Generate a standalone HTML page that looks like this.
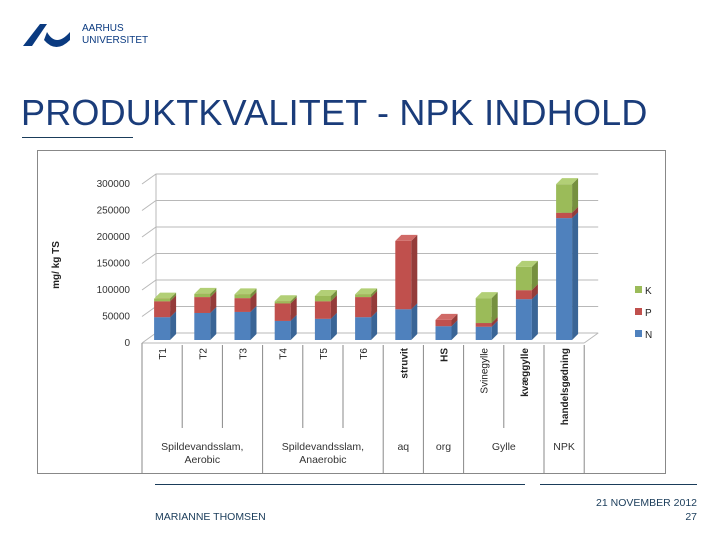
<!DOCTYPE html>
<html><head><meta charset="utf-8">
<style>
body{margin:0;width:720px;height:540px;background:#fff;overflow:hidden;position:relative;font-family:"Liberation Sans",sans-serif}
.abs{position:absolute}
</style></head>
<body>
<div class="abs" style="left:20px;top:20px">
<svg width="52" height="28"><path d="M3 26 L20 4 L27 4 L12 26 Z" fill="#0a3a80"/><path d="M27 12 Q36 28 50 12 L50 20 Q36 34 24 20 Z" fill="#0a3a80"/></svg>
</div>
<div class="abs" style="left:82px;top:23px;font-size:10px;line-height:12px;color:#0a3a80">AARHUS<br>UNIVERSITET</div>
<div class="abs" style="left:21px;top:92px;font-size:36px;color:#1a3c7a;letter-spacing:0.2px;white-space:nowrap">PRODUKTKVALITET - NPK INDHOLD</div>
<div class="abs" style="left:22px;top:137px;width:111px;height:1px;background:#1a3c5a"></div>

<svg class="abs" style="left:0;top:0" width="720" height="540" id="chart"></svg>

<div class="abs" style="left:155px;top:484px;width:370px;height:1px;background:#1a3c5a"></div>
<div class="abs" style="left:540px;top:484px;width:157px;height:1px;background:#1a3c5a"></div>
<div class="abs" style="left:155px;top:511px;font-size:10.5px;color:#1a3c5a">MARIANNE THOMSEN</div>
<div class="abs" style="right:23px;top:497px;font-size:10.5px;color:#1a3c5a;text-align:right">21 NOVEMBER 2012</div>
<div class="abs" style="right:23px;top:511px;font-size:10.5px;color:#1a3c5a">27</div>

<script>
const categories=["T1","T2","T3","T4","T5","T6","struvit","HS","Svinegylle","kvæggylle","handelsgødning"];
const boldCats=["struvit","HS","kvæggylle","handelsgødning"];
const seriesN=[43000,51000,53000,36000,40000,43000,58000,26000,25000,77000,230000];
const seriesP=[30000,30000,26000,33000,33000,38000,129000,12000,7000,17000,10000];
const seriesK=[5000,6000,7000,4000,10000,5000,0,0,47000,44000,54000];
const yTicks=[0,50000,100000,150000,200000,250000,300000];
const groups=[["Spildevandsslam,","Aerobic"],["Spildevandsslam,","Anaerobic"],["aq"],["org"],["Gylle"],["NPK"]];
const groupSizes=[3,3,1,1,2,1];

const svg=document.getElementById('chart');
const NS='http://www.w3.org/2000/svg';
function mk(t,a,p){const e=document.createElementNS(NS,t);for(const k in a)e.setAttribute(k,a[k]);(p||svg).appendChild(e);return e;}
const x0=142, step=40.2, y0=340, kpx=0.53/1000, dx=6, dy=6;
const xC=i=>x0+step*(i+0.5);
const yV=v=>y0-v*kpx;

const frame=mk('rect',{x:37.5,y:150.5,width:628,height:323,fill:'none',stroke:'#888','stroke-width':1});



const right=x0+step*categories.length;
yTicks.forEach((t,i)=>{
  const yb=yV(t)-7;
  const g=mk('polyline',{points:`${x0},${yV(t)+3} ${x0+dx+8},${yb} ${right+14},${yb}`,fill:'none',stroke:'#b8b8b8','stroke-width':1});
  
  
  const l=mk('text',{x:x0-12,y:yV(t)+6,'text-anchor':'end','font-size':10,fill:'#333'});
  l.textContent=t;
  
  
});
mk('line',{x1:x0+dx+8,y1:yV(300000)-7,x2:x0+dx+8,y2:yV(0)-7,stroke:'#b8b8b8'});
mk('line',{x1:right,y1:yV(0)+3,x2:right+14,y2:yV(0)-7,stroke:'#b8b8b8'});
mk('line',{x1:x0,y1:yV(0)+3,x2:right,y2:yV(0)+3,stroke:'#b8b8b8'});

const yt=mk('text',{transform:'translate(59,265) rotate(-90)','text-anchor':'middle','font-size':10,'font-weight':'bold',fill:'#222'});
yt.textContent='mg/ kg TS';



const cols={N:['#4f81bd','#3a6596','#6f9bd0'],P:['#c0504d','#943c3a','#d06a67'],K:['#9bbb59','#76903f','#b2cf76']};
function bar(i,lo,hi,s){
  if(hi<=lo)return;
  const xl=xC(i)-8,w=16,yt2=yV(hi),yb=yV(lo);
  const g=mk('g',{});
  
  
  mk('rect',{x:xl,y:yt2,width:w,height:yb-yt2,fill:cols[s][0]},g);
  mk('polygon',{points:`${xl+w},${yt2} ${xl+w+dx},${yt2-dy} ${xl+w+dx},${yb-dy} ${xl+w},${yb}`,fill:cols[s][1]},g);
  mk('polygon',{points:`${xl},${yt2} ${xl+dx},${yt2-dy} ${xl+w+dx},${yt2-dy} ${xl+w},${yt2}`,fill:cols[s][2]},g);
}
categories.forEach((c,i)=>{
  const a=seriesN[i],b=a+seriesP[i],k=b+seriesK[i];
  bar(i,0,a,'N');bar(i,a,b,'P');bar(i,b,k,'K');
  const t=mk('text',{transform:`translate(${xC(i)+4},348) rotate(-90)`,'text-anchor':'end','font-size':10,fill:'#222','font-weight':boldCats.includes(c)?'bold':'normal'});
  t.textContent=c;
  
  
});
mk('line',{x1:x0,y1:yV(0)+3,x2:x0,y2:473,stroke:'#888'});
let acc=0;
groups.forEach((g,gi)=>{
  const n=groupSizes[gi];
  for(let j=1;j<n;j++) mk('line',{x1:x0+step*(acc+j),y1:345,x2:x0+step*(acc+j),y2:428,stroke:'#888'});
  const xe=x0+step*(acc+n);
  mk('line',{x1:xe,y1:345,x2:xe,y2:473,stroke:'#888'});
  const cx=x0+step*(acc+n/2);
  g.forEach((ln,li)=>{
    const t=mk('text',{x:cx,y:450+li*13,'text-anchor':'middle','font-size':10.5,fill:'#333'});
    t.textContent=ln;
    
    
  });
  acc+=n;
});
[['K',cols.K[0],290],['P',cols.P[0],312],['N',cols.N[0],334]].forEach(([l,c,y])=>{
  const g=mk('g',{});
  
  
  mk('rect',{x:635,y:y-4,width:7,height:7,fill:c},g);
  const t=mk('text',{x:645,y:y+4,'font-size':10,fill:'#222'},g);t.textContent=l;
});
</script>
</body></html>
